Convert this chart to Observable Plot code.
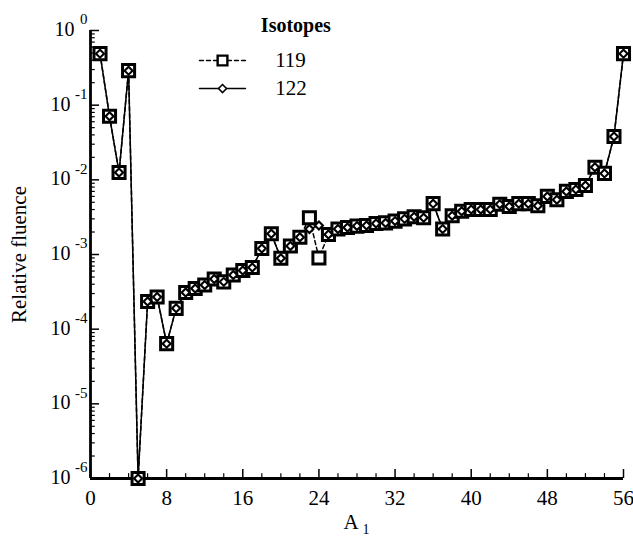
<!DOCTYPE html>
<html><head><meta charset="utf-8">
<script src="https://cdn.jsdelivr.net/npm/d3@7"></script>
<script src="https://cdn.jsdelivr.net/npm/@observablehq/plot@0.6"></script>
<style>body{margin:0;background:#fff}</style>
</head><body><div id="chart"></div>
<script>
const massNumbers = [1,2,3,4,5,6,7,8,9,10,11,12,13,14,15,16,17,18,19,20,21,22,23,24,25,26,27,28,29,30,31,32,33,34,35,36,37,38,39,40,41,42,43,44,45,46,47,48,49,50,51,52,53,54,55,56];
const fluence119 = [0.49,0.071,0.0125,0.29,1e-6,2.35e-4,2.7e-4,6.4e-5,1.9e-4,3.1e-4,3.5e-4,3.9e-4,4.7e-4,4.3e-4,5.3e-4,6.1e-4,6.7e-4,1.2e-3,1.9e-3,8.9e-4,1.3e-3,1.7e-3,3.1e-3,9.0e-4,1.85e-3,2.2e-3,2.3e-3,2.4e-3,2.45e-3,2.6e-3,2.65e-3,2.8e-3,3.0e-3,3.2e-3,3.1e-3,4.8e-3,2.2e-3,3.3e-3,3.8e-3,4.0e-3,4.0e-3,4.0e-3,4.7e-3,4.4e-3,4.8e-3,4.8e-3,4.5e-3,6.0e-3,5.4e-3,7.0e-3,7.4e-3,8.4e-3,1.47e-2,1.22e-2,3.8e-2,0.49];
const fluence122 = [0.49,0.071,0.0125,0.29,1e-6,2.35e-4,2.7e-4,6.4e-5,1.9e-4,3.1e-4,3.5e-4,3.9e-4,4.7e-4,4.3e-4,5.3e-4,6.1e-4,6.7e-4,1.2e-3,1.9e-3,8.9e-4,1.3e-3,1.7e-3,2.2e-3,2.45e-3,1.85e-3,2.2e-3,2.3e-3,2.4e-3,2.45e-3,2.6e-3,2.65e-3,2.8e-3,3.0e-3,3.2e-3,3.1e-3,4.8e-3,2.2e-3,3.3e-3,3.8e-3,4.0e-3,4.0e-3,4.0e-3,4.7e-3,4.4e-3,4.8e-3,4.8e-3,4.5e-3,6.0e-3,5.4e-3,7.0e-3,7.4e-3,8.4e-3,1.47e-2,1.22e-2,3.8e-2,0.49];
const xTicks = [0,8,16,24,32,40,48,56];
const xMinorTicks = [2,4,6,10,12,14,18,20,22,26,28,30,34,36,38,42,44,46,50,52,54];
const yTicks = [1e-6,1e-5,1e-4,1e-3,1e-2,1e-1,1];
const yExponents = ["-6","-5","-4","-3","-2","-1","0"];
const legendTitle = "Isotopes";
const seriesNames = ["119","122"];
const legendRows = [0.397, 0.167];
const legendLineX = [11.45, 16.28];
const legendMarkerX = 13.87;
const legendTextX = 19.4;
const legendTitlePos = {x: 17.9, y: 1.17};
const xLabel = "A";
const xLabelSub = "1";
const yLabel = "Relative fluence";

const rows119 = massNumbers.map((a,i)=>({a, v: fluence119[i]}));
const rows122 = massNumbers.map((a,i)=>({a, v: fluence122[i]}));
const yMinor = [];
for (let e=-6;e<0;e++) for (let m=2;m<=9;m++) yMinor.push(m*Math.pow(10,e));
const yTickRows = yTicks.map((t,i)=>({t, e: yExponents[i]}));
const font = "Liberation Serif, Times New Roman, serif";
const ymin = 1e-6;

const chart = Plot.plot({
  width: 633, height: 539,
  marginLeft: 90, marginRight: 10, marginTop: 30, marginBottom: 61,
  x: {domain: [0,56], axis: null},
  y: {type: "log", domain: [1e-6, 1], axis: null},
  style: {fontFamily: font, background: "white", color: "black"},
  marks: [
    Plot.ruleY(yTicks, {y: d=>d, x1: 0, x2: 0.95, stroke: "black", strokeWidth: 1.5}),
    Plot.ruleY(yMinor, {y: d=>d, x1: 0, x2: 0.5, stroke: "black", strokeWidth: 1.2}),
    Plot.ruleX(xTicks, {x: d=>d, y1: ymin, y2: ymin*Math.pow(10,0.12), stroke: "black", strokeWidth: 1.5}),
    Plot.ruleX(xMinorTicks, {x: d=>d, y1: ymin, y2: ymin*Math.pow(10,0.065), stroke: "black", strokeWidth: 1.2}),
    Plot.ruleX([0], {y1: ymin, y2: 1, stroke: "black", strokeWidth: 2.8}),
    Plot.ruleY([ymin], {x1: 0, x2: 56, stroke: "black", strokeWidth: 2.8}),
    Plot.text(xTicks, {x: d=>d, y: ymin, text: d=>String(d), dy: 20, fontSize: 21, lineAnchor: "middle"}),
    Plot.text(yTickRows.filter(d=>d.e!=="0"), {x: 0, y: "t", text: ()=>"10", textAnchor: "end", dx: -20, dy: -1, fontSize: 20}),
    Plot.text(yTickRows.filter(d=>d.e==="0"), {x: 0, y: "t", text: ()=>"10", textAnchor: "end", dx: -16, dy: -1, fontSize: 20}),
    Plot.text(yTickRows, {x: 0, y: "t", text: "e", textAnchor: "end", dx: -3, dy: -11, fontSize: 15}),
    Plot.text([yLabel], {frameAnchor: "left", textAnchor: "middle", dx: -71, rotate: -90, fontSize: 21}),
    Plot.text([xLabel], {frameAnchor: "bottom", dx: -6, dy: 44, fontSize: 21, lineAnchor: "middle"}),
    Plot.text([xLabelSub], {frameAnchor: "bottom", dx: 9, dy: 51, fontSize: 14, lineAnchor: "middle"}),
    Plot.line(rows119, {x: "a", y: "v", stroke: "black", strokeWidth: 1.5, strokeDasharray: "4,3"}),
    Plot.line(rows122, {x: "a", y: "v", stroke: "black", strokeWidth: 1.5}),
    Plot.dot(rows119, {x: "a", y: "v", symbol: "square", r: 6.8, stroke: "black", strokeWidth: 3, fill: "white"}),
    Plot.dot(rows122, {x: "a", y: "v", symbol: "diamond2", r: 3.6, stroke: "black", strokeWidth: 2.1, fill: "white"}),
    Plot.text([legendTitle], {x: legendTitlePos.x, y: legendTitlePos.y, textAnchor: "start", fontSize: 20, fontWeight: 600}),
    Plot.line(legendLineX.map(x=>({x, y: legendRows[0]})), {x: "x", y: "y", stroke: "black", strokeWidth: 1.4, strokeDasharray: "4,3"}),
    Plot.line(legendLineX.map(x=>({x, y: legendRows[1]})), {x: "x", y: "y", stroke: "black", strokeWidth: 1.4}),
    Plot.dot([{x: legendMarkerX, y: legendRows[0]}], {x: "x", y: "y", symbol: "square", r: 5.5, stroke: "black", strokeWidth: 2.4, fill: "white"}),
    Plot.dot([{x: legendMarkerX, y: legendRows[1]}], {x: "x", y: "y", symbol: "diamond2", r: 3.6, stroke: "black", strokeWidth: 1.6, fill: "white"}),
    Plot.text(seriesNames.map((s,i)=>({s, y: legendRows[i]})), {x: legendTextX, y: "y", text: "s", textAnchor: "start", fontSize: 21})
  ]
});
document.getElementById("chart").appendChild(chart);
</script>
</body></html>
